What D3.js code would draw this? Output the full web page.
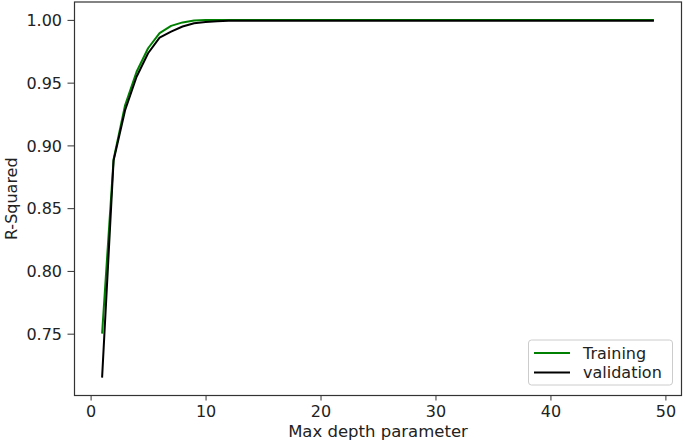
<!DOCTYPE html>
<html><head><meta charset="utf-8">
<script src="https://cdn.jsdelivr.net/npm/d3@7"></script>
<style>body{margin:0;background:#fff;} text{font-family:"DejaVu Sans",sans-serif;}</style>
</head><body>
<svg id="c" width="685" height="442"></svg>
<script>
const depths = d3.range(1, 50);
const trainingHead = [0.750, 0.889, 0.932, 0.9587, 0.9774, 0.9894, 0.9952, 0.998, 0.9995, 1.0];
const validationHead = [0.715, 0.888, 0.928, 0.9547, 0.9734, 0.9859, 0.9907, 0.9947, 0.9973, 0.9984, 0.9990, 0.9993];
const trainingTail = 1.0;
const validationTail = 0.9993;
const training = depths.map((d, i) => i < trainingHead.length ? trainingHead[i] : trainingTail);
const validation = depths.map((d, i) => i < validationHead.length ? validationHead[i] : validationTail);
const xTicks = [0, 10, 20, 30, 40, 50];
const yTicks = [0.75, 0.80, 0.85, 0.90, 0.95, 1.00];
const seriesNames = ["Training", "validation"];
const seriesColors = ["#008000", "#000000"];

const svg = d3.select("#c");
const L = 74.5, R = 681.5, T = 2, B = 395.5;
const x = d3.scaleLinear().domain([-1.4, 51.4]).range([L, R]);
const y = d3.scaleLinear().domain([0.70075, 1.01425]).range([B, T]);

const xAxis = svg.append("g").attr("transform", `translate(0,${B})`)
  .call(d3.axisBottom(x).tickValues(xTicks).tickFormat(d3.format("d")).tickSize(5).tickPadding(4));
const yAxis = svg.append("g").attr("transform", `translate(${L},0)`)
  .call(d3.axisLeft(y).tickValues(yTicks).tickFormat(d3.format(".2f")).tickSize(7).tickPadding(5.5));
[xAxis, yAxis].forEach(a => {
  a.select(".domain").remove();
  a.selectAll("text").attr("font-size", 16).attr("fill", "#222").attr("font-family", "DejaVu Sans");
  a.selectAll("line").attr("stroke", "#333");
});
xAxis.selectAll("text").attr("dy", null).attr("y", 21.5);
yAxis.selectAll("text").attr("dy", "0.36em");

const line = d3.line().x((d, i) => x(depths[i])).y(d => y(d));
[training, validation].forEach((s, k) => {
  svg.append("path").datum(s).attr("d", line).attr("fill", "none")
    .attr("stroke", seriesColors[k]).attr("stroke-width", 2).attr("stroke-linejoin", "round");
});

svg.append("rect").attr("x", L).attr("y", T).attr("width", R - L).attr("height", B - T)
  .attr("fill", "none").attr("stroke", "#333").attr("stroke-width", 1.2);

svg.append("text").attr("x", (L + R) / 2).attr("y", 436.5).attr("text-anchor", "middle")
  .attr("font-size", 16.5).attr("fill", "#222").text("Max depth parameter");
svg.append("text").attr("transform", `translate(16.5,${(T + B) / 2}) rotate(-90)`).attr("text-anchor", "middle")
  .attr("font-size", 16).attr("fill", "#222").text("R-Squared");

const lg = svg.append("g");
lg.append("rect").attr("x", 528.5).attr("y", 340).attr("width", 144).attr("height", 45).attr("rx", 3)
  .attr("fill", "#fff").attr("stroke", "#ccc");
seriesNames.forEach((n, k) => {
  const cy = 353 + k * 19.5;
  lg.append("line").attr("x1", 534).attr("x2", 570).attr("y1", cy).attr("y2", cy)
    .attr("stroke", seriesColors[k]).attr("stroke-width", 2);
  lg.append("text").attr("x", 583).attr("y", cy + 5.5).attr("font-size", 16).attr("fill", "#222").text(n);
});
</script>
</body></html>
